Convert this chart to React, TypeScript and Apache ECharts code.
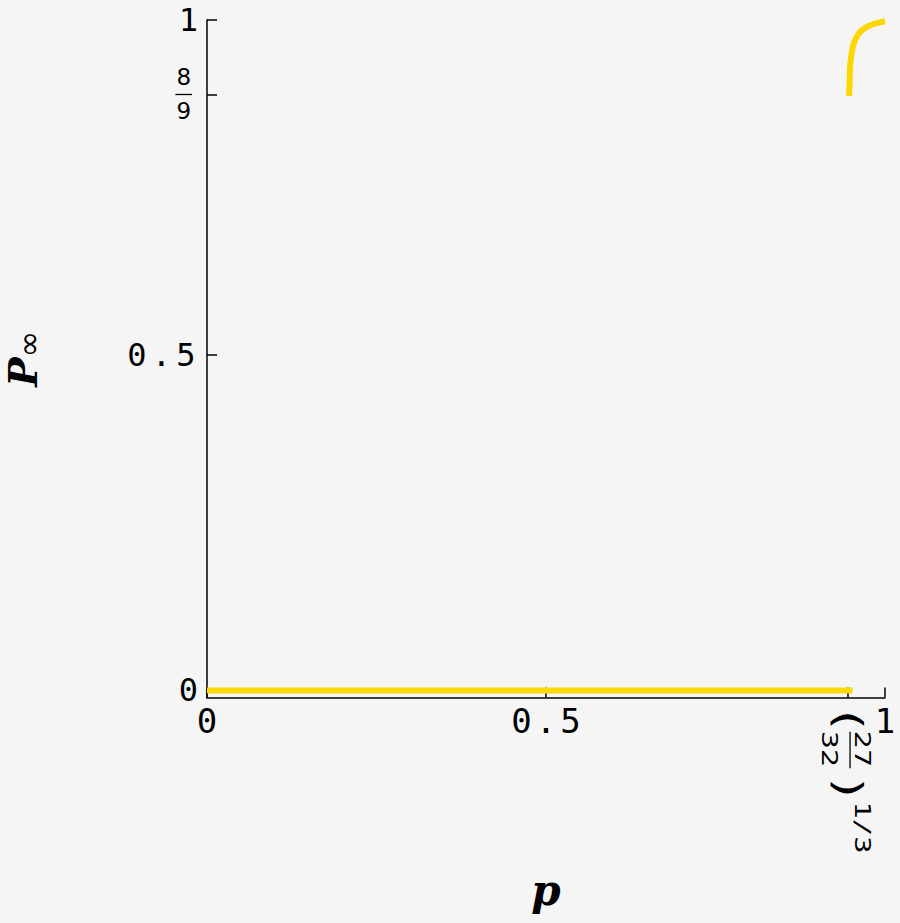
import { useEffect, useRef } from "react";
import * as echarts from "echarts";

// P_inf(p): zero branch below the threshold, then the upper branch up to p = 1
const lowP = [0, 0.952];
const lowV = [0, 0];
const highP = [0.947, 0.9479, 0.9488, 0.9524, 0.9568, 0.9631, 0.972, 0.9827, 0.9951, 1.0];
const highV = [0.887, 0.909, 0.934, 0.959, 0.972, 0.982, 0.989, 0.994, 0.997, 0.998];

const P_C = 0.9449; // (27/32)^(1/3)
const xTicks = [0, 0.5, P_C, 1];
const xLabels = [0, 0.5, 1];
const yTicks = [0, 0.5, 0.8889, 1];
const Y_MIN = -0.0105;

const YELLOW = "#FFD700";
const BG = "#f5f5f5";

const monoRich = (size: number) => ({
  d: { fontFamily: "DejaVu Sans Mono", fontSize: size, width: 24.5, align: "center", color: "#000" },
  n: { fontFamily: "DejaVu Sans Mono", fontSize: size, color: "#000" },
});

export default function App() {
  const ref = useRef<HTMLDivElement>(null);

  useEffect(() => {
    document.body.style.margin = "0";
    document.body.style.background = BG;
    if (!ref.current) return;
    const chart = echarts.init(ref.current, undefined, { renderer: "svg" });

    const numLabel = (v: number) => (v === 0.5 ? "{d|0}{d|.}{d|5}" : `{n|${v}}`);

    chart.setOption({
      animation: false,
      backgroundColor: BG,
      grid: { left: 207, right: 15, top: 20, bottom: 225.5, outerBoundsMode: "none", containLabel: false },
      xAxis: {
        type: "value",
        min: 0,
        max: 1,
        name: "p",
        nameLocation: "middle",
        nameGap: 172,
        nameTextStyle: {
          fontFamily: "DejaVu Serif",
          fontWeight: "bold",
          fontStyle: "italic",
          fontSize: 42,
          color: "#000",
        },
        axisLine: { onZero: false, lineStyle: { color: "#000", width: 1.5 } },
        axisTick: { inside: true, length: 10, customValues: xTicks, lineStyle: { color: "#000", width: 1.5 } },
        axisLabel: {
          customValues: xLabels,
          margin: 6,
          formatter: numLabel,
          rich: monoRich(34),
        },
        splitLine: { show: false },
      },
      yAxis: {
        type: "value",
        min: Y_MIN,
        max: 1,
        name: "{P|P}{s|∞}",
        nameLocation: "middle",
        nameGap: 162,
        nameTextStyle: {
          rich: {
            P: { fontFamily: "DejaVu Serif", fontWeight: "bold", fontStyle: "italic", fontSize: 39, lineHeight: 44, color: "#000" },
            s: { fontFamily: "DejaVu Sans", fontSize: 32, lineHeight: 18, verticalAlign: "bottom", color: "#000" },
          },
        },
        axisLine: { onZero: false, lineStyle: { color: "#000", width: 1.5 } },
        axisTick: { inside: true, length: 10, customValues: yTicks, lineStyle: { color: "#000", width: 1.5 } },
        axisLabel: {
          customValues: yTicks,
          margin: 9,
          formatter: (v: number) =>
            Math.abs(v - 0.8889) < 1e-6 ? "{f|8}{g| }\n{bar| }{g| }\n{f|9}{g| }" : numLabel(v),
          rich: {
            ...monoRich(32),
            f: { fontFamily: "DejaVu Sans", fontSize: 23, lineHeight: 26, width: 16.6, align: "center", color: "#000" },
            g: { width: 6, fontSize: 8 },
            bar: { width: 16.6, height: 1.3, lineHeight: 3, fontSize: 1, backgroundColor: "#000" },
          },
        },
        splitLine: { show: false },
      },
      series: [
        {
          type: "line",
          data: lowP.map((p, i) => [p, lowV[i]]),
          showSymbol: false,
          lineStyle: { color: YELLOW, width: 6, cap: "butt" },
        },
        {
          type: "line",
          data: highP.map((p, i) => [p, highV[i]]),
          showSymbol: false,
          smooth: 0.4,
          lineStyle: { color: YELLOW, width: 6, cap: "butt" },
        },
      ],
    });

    // rotated label for the threshold tick (27/32)^(1/3)
    const px = chart.convertToPixel({ xAxisIndex: 0 }, P_C) as number;
    const py = chart.convertToPixel({ yAxisIndex: 0 }, Y_MIN) as number;
    const txt = (text: string, x: number, y: number, size: number, family = "DejaVu Sans") => ({
      type: "text",
      x,
      y,
      style: { text, fill: "#000", fontSize: size, fontFamily: family, align: "center", verticalAlign: "middle" },
    });
    chart.setOption({
      graphic: [
        {
          type: "group",
          x: px,
          y: py,
          rotation: -Math.PI / 2,
          scaleX: 1.37,
          children: [
            txt("(", 16.4, -0.7, 37),
            txt("27", 37.6, -14.9, 21),
            {
              type: "line",
              shape: { x1: 25, y1: -2.4, x2: 51.7, y2: -2.4 },
              style: { stroke: "#000", lineWidth: 1.3 },
            },
            txt("32", 37.6, 18.4, 21),
            txt(")", 66, -0.7, 37),
            txt("1/3", 94.9, -14.9, 21, "DejaVu Sans Mono"),
          ],
        },
      ],
    });

    return () => chart.dispose();
  }, []);

  return <div ref={ref} style={{ width: 900, height: 923 }} />;
}
